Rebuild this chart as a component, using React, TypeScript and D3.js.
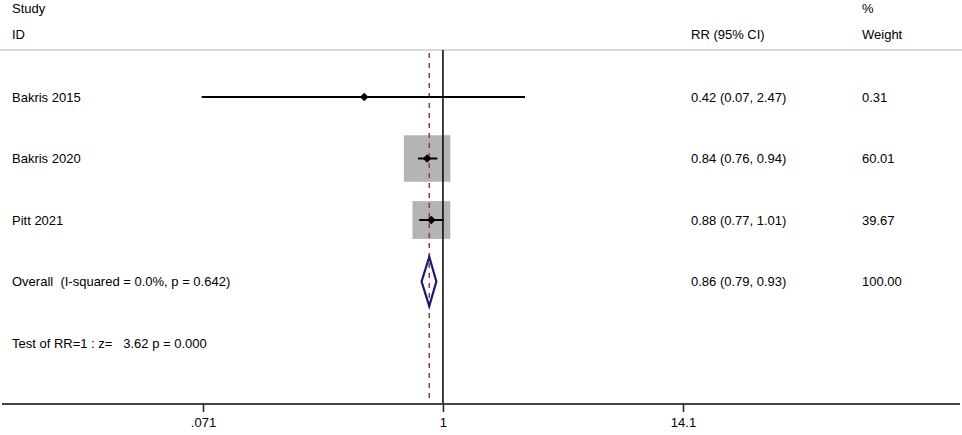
import React, { useRef, useEffect } from 'react';
import * as d3 from 'd3';

const studies = ['Bakris 2015', 'Bakris 2020', 'Pitt 2021'];
const rr = [0.42, 0.84, 0.88];
const lower = [0.07, 0.76, 0.77];
const upper = [2.47, 0.94, 1.01];
const weights = [0.31, 60.01, 39.67];
const ciLabels = ['0.42 (0.07, 2.47)', '0.84 (0.76, 0.94)', '0.88 (0.77, 1.01)'];
const weightLabels = ['0.31', '60.01', '39.67'];

const overallLabel = 'Overall  (I-squared = 0.0%, p = 0.642)';
const overall = { rr: 0.86, lower: 0.79, upper: 0.93 };
const overallCi = '0.86 (0.79, 0.93)';
const overallWeight = '100.00';
const testLabel = 'Test of RR=1 : z=   3.62 p = 0.000';

const tickValues = [0.071, 1, 14.1];
const tickLabels = ['.071', '1', '14.1'];

const App = () => {
  const svgRef = useRef<SVGSVGElement>(null);
  const w = 962;
  const h = 435;

  useEffect(() => {
    const svg = d3.select(svgRef.current);
    svg.selectAll('*').remove();

    const font = 'Arial, "Liberation Sans", sans-serif';
    const x = d3.scaleLog().domain([0.071, 14.1]).range([203, 683]);
    const y = d3.scaleLinear().domain([0, 4]).range([97, 343]);
    const step = y(1) - y(0);
    const axisY = 404;
    const boxK = 6.0;

    const text = (tx: number, ty: number, s: string) =>
      svg
        .append('text')
        .attr('x', tx)
        .attr('y', ty)
        .attr('dy', '0.35em')
        .attr('font-family', font)
        .attr('font-size', 13)
        .attr('fill', '#000')
        .style('white-space', 'pre')
        .text(s);

    // header
    text(12, 8, 'Study');
    text(12, 34, 'ID');
    text(691, 34, 'RR (95% CI)');
    text(862, 8, '%');
    text(862, 34, 'Weight');

    svg
      .append('line')
      .attr('x1', 0)
      .attr('x2', w)
      .attr('y1', 50)
      .attr('y2', 50)
      .attr('stroke', '#cfcbcd')
      .attr('stroke-width', 1.5);

    // boxes
    svg
      .selectAll('.box')
      .data(studies)
      .join('rect')
      .attr('class', 'box')
      .attr('x', (d, i) => x(rr[i]) - (Math.sqrt(weights[i]) * boxK) / 2)
      .attr('y', (d, i) => y(i) - (Math.sqrt(weights[i]) * boxK) / 2)
      .attr('width', (d, i) => Math.sqrt(weights[i]) * boxK)
      .attr('height', (d, i) => Math.sqrt(weights[i]) * boxK)
      .attr('fill', '#b4b4b4');

    // null line and overall line
    svg
      .append('line')
      .attr('x1', x(1))
      .attr('x2', x(1))
      .attr('y1', 50)
      .attr('y2', axisY)
      .attr('stroke', '#000')
      .attr('stroke-width', 1.5);

    svg
      .append('line')
      .attr('x1', x(overall.rr))
      .attr('x2', x(overall.rr))
      .attr('y1', 53)
      .attr('y2', axisY)
      .attr('stroke', '#8e3a55')
      .attr('stroke-width', 1.5)
      .attr('stroke-dasharray', '5,5');

    // CI lines
    svg
      .selectAll('.ci')
      .data(studies)
      .join('line')
      .attr('class', 'ci')
      .attr('x1', (d, i) => x(lower[i]))
      .attr('x2', (d, i) => x(upper[i]))
      .attr('y1', (d, i) => y(i))
      .attr('y2', (d, i) => y(i))
      .attr('stroke', '#000')
      .attr('stroke-width', 2);

    // point markers
    const sym = d3.symbol().type(d3.symbolDiamond2).size(48);
    svg
      .selectAll('.pt')
      .data(studies)
      .join('path')
      .attr('class', 'pt')
      .attr('d', sym)
      .attr('transform', (d, i) => `translate(${x(rr[i])},${y(i)})`)
      .attr('fill', '#000');

    // overall diamond
    const oy = y(3);
    const half = step * 0.4;
    const diamond = d3.line()([
      [x(overall.lower), oy],
      [x(overall.rr), oy - half],
      [x(overall.upper), oy],
      [x(overall.rr), oy + half],
    ]) + 'Z';
    svg
      .append('path')
      .attr('d', diamond)
      .attr('fill', 'none')
      .attr('stroke', '#1b1a6b')
      .attr('stroke-width', 2.2);

    // row labels
    studies.forEach((s, i) => {
      text(12, y(i), s);
      text(691, y(i), ciLabels[i]);
      text(862, y(i), weightLabels[i]);
    });
    text(12, y(3), overallLabel);
    text(691, y(3), overallCi);
    text(862, y(3), overallWeight);
    text(12, y(4), testLabel);

    // axis
    svg
      .append('line')
      .attr('x1', 2)
      .attr('x2', 960)
      .attr('y1', axisY)
      .attr('y2', axisY)
      .attr('stroke', '#444')
      .attr('stroke-width', 2);

    const axis = d3
      .axisBottom(x)
      .tickValues(tickValues)
      .tickFormat((d, i) => tickLabels[i])
      .tickSize(8)
      .tickPadding(6);
    const g = svg.append('g').attr('transform', `translate(0, ${axisY})`).call(axis);
    g.select('.domain').remove();
    g.selectAll('.tick line').attr('stroke', '#222').attr('stroke-width', 1.5);
    g.selectAll('.tick text')
      .attr('font-family', font)
      .attr('font-size', 13)
      .attr('fill', '#000');
  }, []);

  return (
    <svg
      ref={svgRef}
      width={w}
      height={h}
      style={{ position: 'absolute', left: 0, top: 0, background: '#fff' }}
    />
  );
};

export default App;
